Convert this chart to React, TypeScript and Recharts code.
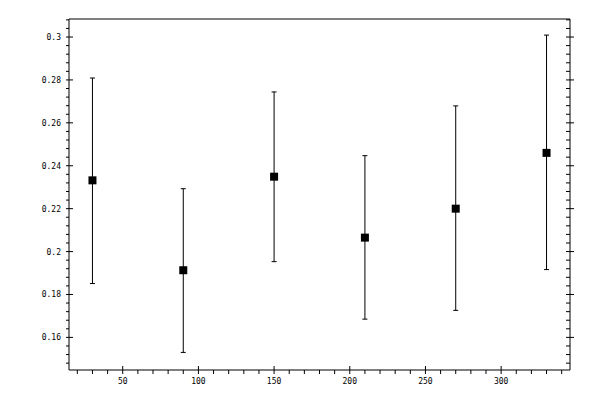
import { ErrorBar, Scatter, ScatterChart, XAxis, YAxis } from "recharts";

const xValues = [30, 90, 150, 210, 270, 330];
const yValues = [0.2332, 0.1913, 0.2349, 0.2065, 0.22, 0.246];
const errLow = [0.0481, 0.0383, 0.0396, 0.038, 0.0474, 0.0544];
const errHigh = [0.0477, 0.038, 0.0395, 0.0382, 0.0479, 0.0549];

const xMajorTicks = [50, 100, 150, 200, 250, 300];
const yMajorTicks = [0.16, 0.18, 0.2, 0.22, 0.24, 0.26, 0.28, 0.3];

const X_DOMAIN: [number, number] = [14.5, 345.5];
const Y_DOMAIN: [number, number] = [0.1448, 0.3084];

// minor ticks every 10 on x, every 0.004 on y
const xAllTicks = Array.from({ length: 33 }, (_, i) => 20 + i * 10);
const yAllTicks = Array.from({ length: 41 }, (_, i) => Number((0.148 + i * 0.004).toFixed(3)));

const data = xValues.map((x, i) => ({ x, y: yValues[i], err: [errLow[i], errHigh[i]] }));

const FONT = "'DejaVu Sans Mono', monospace";

const isXMajor = (v: number) => xMajorTicks.includes(v);
const isYMajor = (v: number) => yMajorTicks.some((t) => Math.abs(t - v) < 1e-6);

function BottomTick({ x, y, payload }: any) {
  const major = isXMajor(payload.value);
  return (
    <g>
      <line x1={x} x2={x} y1={major ? y - 4 : y} y2={y + 4} stroke="#000" />
      {major && (
        <text x={x} y={y + 14} textAnchor="middle" fontSize={8} fontFamily={FONT} fill="#000">
          {payload.value}
        </text>
      )}
    </g>
  );
}

function TopTick({ x, y, payload }: any) {
  const major = isXMajor(payload.value);
  return <line x1={x} x2={x} y1={y - 3} y2={major ? y + 4 : y} stroke="#000" />;
}

function LeftTick({ x, y, payload }: any) {
  const major = isYMajor(payload.value);
  return (
    <g>
      <line x1={x - 3} x2={major ? x + 4 : x} y1={y} y2={y} stroke="#000" />
      {major && (
        <text x={x - 8} y={y + 3} textAnchor="end" fontSize={8} fontFamily={FONT} fill="#000">
          {String(Number(payload.value.toFixed(2)))}
        </text>
      )}
    </g>
  );
}

function RightTick({ x, y, payload }: any) {
  const major = isYMajor(payload.value);
  return <line x1={x - 4} x2={major ? x + 4 : x} y1={y} y2={y} stroke="#000" />;
}

export default function App() {
  return (
    <div style={{ position: "absolute", left: 0, top: 0, background: "#fff" }}>
      <ScatterChart width={600} height={400} margin={{ top: 0, right: 0, bottom: 0, left: 0 }}>
        <XAxis
          xAxisId="bottom"
          type="number"
          dataKey="x"
          domain={X_DOMAIN}
          ticks={xAllTicks}
          interval={0}
          allowDataOverflow
          height={30}
          tickSize={0}
          tickMargin={0}
          tickLine={false}
          axisLine={{ stroke: "#000" }}
          tick={BottomTick}
        />
        <XAxis
          xAxisId="top"
          orientation="top"
          type="number"
          domain={X_DOMAIN}
          ticks={xAllTicks}
          interval={0}
          allowDataOverflow
          height={19}
          tickSize={0}
          tickMargin={0}
          tickLine={false}
          axisLine={{ stroke: "#000" }}
          tick={TopTick}
        />
        <YAxis
          yAxisId="left"
          type="number"
          dataKey="y"
          domain={Y_DOMAIN}
          ticks={yAllTicks}
          interval={0}
          allowDataOverflow
          width={69}
          tickSize={0}
          tickMargin={0}
          tickLine={false}
          axisLine={{ stroke: "#000" }}
          tick={LeftTick}
        />
        <YAxis
          yAxisId="right"
          orientation="right"
          type="number"
          domain={Y_DOMAIN}
          ticks={yAllTicks}
          interval={0}
          allowDataOverflow
          width={30}
          tickSize={0}
          tickMargin={0}
          tickLine={false}
          axisLine={{ stroke: "#000" }}
          tick={RightTick}
        />
        <Scatter
          data={data}
          xAxisId="bottom"
          yAxisId="left"
          fill="#000"
          shape="square"
          isAnimationActive={false}
        >
          <ErrorBar dataKey="err" direction="y" width={2.5} stroke="#000" strokeWidth={1} isAnimationActive={false} />
        </Scatter>
      </ScatterChart>
    </div>
  );
}
